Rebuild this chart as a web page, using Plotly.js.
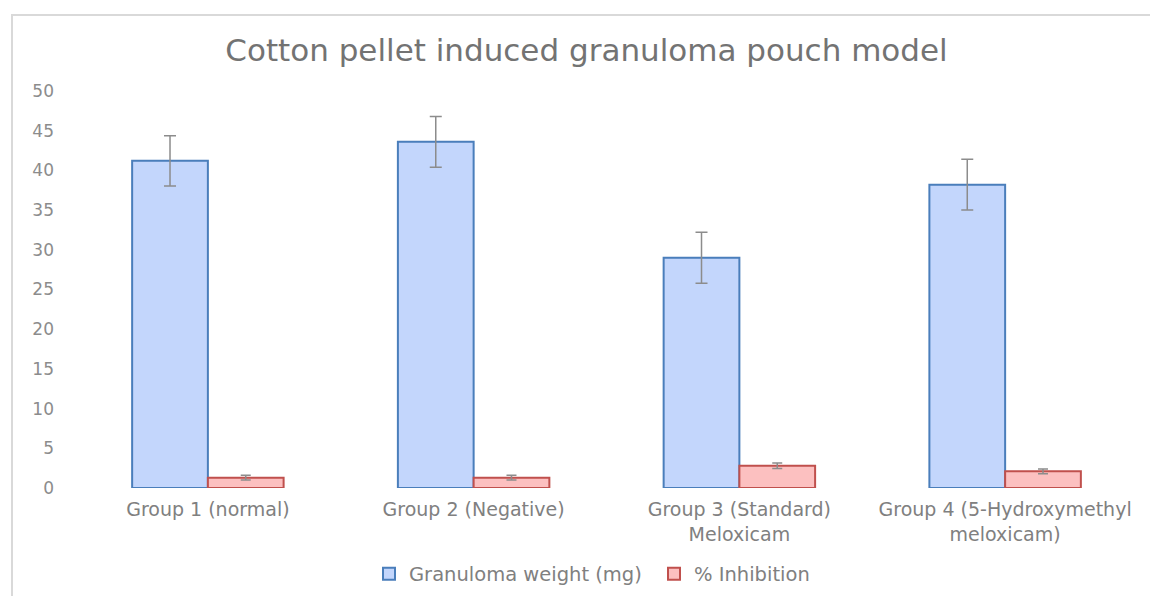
<!DOCTYPE html>
<html>
<head>
<meta charset="utf-8">
<script src="https://cdn.plot.ly/plotly-3.0.1.min.js"></script>
<style>
  html, body { margin: 0; padding: 0; background: #ffffff; }
  #frame { position: absolute; left: 11px; top: 14px; width: 1150px; height: 600px;
           border-left: 2px solid #d9d9d9; border-top: 2px solid #d9d9d9; }
  #chart { position: absolute; left: 0; top: 0; width: 1150px; height: 596px; }
</style>
</head>
<body>
<div id="frame"></div>
<div id="chart"></div>
<script>
const categories = [
  "Group 1 (normal)",
  "Group 2 (Negative)",
  "Group 3 (Standard)<br>Meloxicam",
  "Group 4 (5-Hydroxymethyl<br>meloxicam)"
];
const granulomaWeight = [41.2, 43.6, 29.0, 38.2];
const granulomaErr = [3.15, 3.2, 3.2, 3.2];
const inhibition = [1.3, 1.3, 2.8, 2.1];
const inhibitionErr = [0.3, 0.3, 0.35, 0.3];
const yTicks = [0, 5, 10, 15, 20, 25, 30, 35, 40, 45, 50];

const font = '"DejaVu Sans", "Noto Sans", sans-serif';

const traces = [
  {
    type: 'bar', name: 'Granuloma weight (mg)', x: categories, y: granulomaWeight,
    marker: { color: '#c3d6fc', line: { color: '#4a7ebb', width: 2 } },
    error_y: { type: 'data', array: granulomaErr, visible: true, color: '#8c8c8c', thickness: 1.5, width: 6 }
  },
  {
    type: 'bar', name: '% Inhibition', x: categories, y: inhibition,
    marker: { color: '#fcc0c0', line: { color: '#c0504d', width: 2 } },
    error_y: { type: 'data', array: inhibitionErr, visible: true, color: '#8c8c8c', thickness: 1.5, width: 5 }
  }
];

const layout = {
  width: 1150, height: 596,
  paper_bgcolor: 'rgba(0,0,0,0)', plot_bgcolor: 'rgba(0,0,0,0)',
  margin: { l: 75, r: 12, t: 91, b: 108, autoexpand: false },
  barmode: 'group', bargap: 0.43, bargroupgap: 0,
  title: { text: 'Cotton pellet induced granuloma pouch model',
           font: { family: font, size: 31, color: '#737373' },
           x: 0.51, xanchor: 'center', y: 1 - 50 / 596, yanchor: 'middle', yref: 'container' },
  xaxis: {
    automargin: false,
    showgrid: false, zeroline: false, showline: false, ticks: '',
    tickfont: { family: font, size: 19, color: '#808080' },
    ticklabelstandoff: 8
  },
  yaxis: {
    automargin: false,
    range: [0, 50], tickvals: yTicks, showgrid: false, zeroline: false, showline: false, ticks: '',
    tickfont: { family: font, size: 17, color: '#8c8c8c' },
    ticklabelstandoff: 20
  },
  legend: { orientation: 'h', xref: 'container', x: 369 / 1150, xanchor: 'left',
            y: 1 - 574 / 596, yanchor: 'middle', yref: 'container',
            font: { family: font, size: 19.5, color: '#808080' },
            itemwidth: 30, entrywidth: 240, entrywidthmode: 'pixels', tracegroupgap: 0 },
  showlegend: true
};

Plotly.newPlot('chart', traces, layout, { displayModeBar: false, staticPlot: true });
</script>
</body>
</html>
